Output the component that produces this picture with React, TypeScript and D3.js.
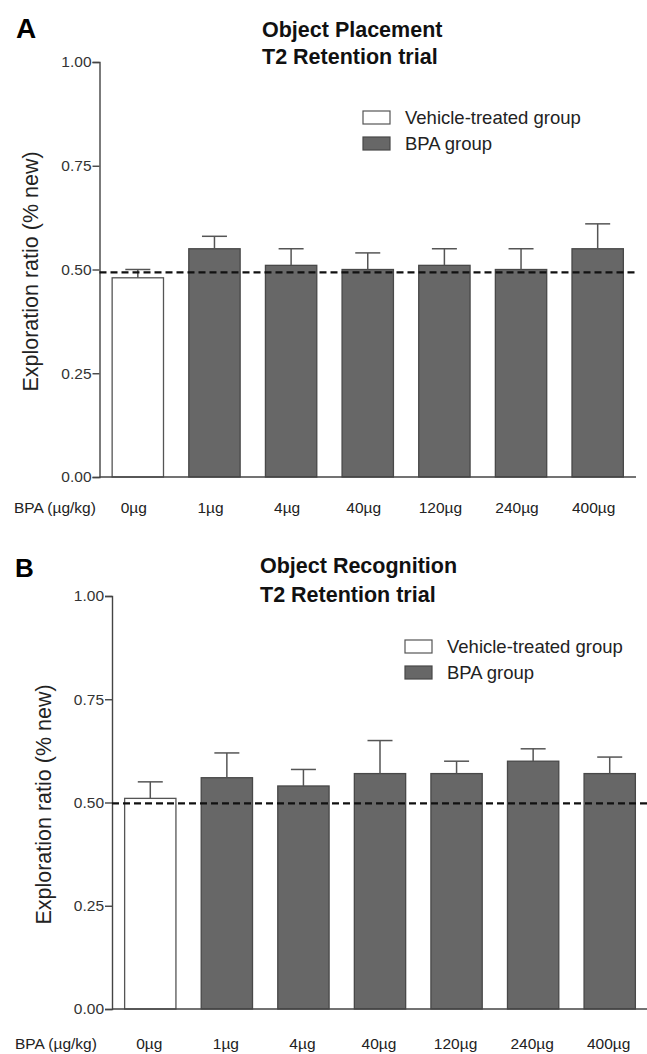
import React, { useEffect, useRef } from 'react';
import * as d3 from 'd3';

// doses on the x axis
const doses = ["0µg", "1µg", "4µg", "40µg", "120µg", "240µg", "400µg"];
const groups = ["vehicle", "bpa", "bpa", "bpa", "bpa", "bpa", "bpa"];

// A: object placement
const placementMean = [0.48, 0.55, 0.51, 0.50, 0.51, 0.50, 0.55];
const placementErr = [0.02, 0.03, 0.04, 0.04, 0.04, 0.05, 0.06];
const placementChance = 0.493;

// B: object recognition
const recognitionMean = [0.51, 0.56, 0.54, 0.57, 0.57, 0.60, 0.57];
const recognitionErr = [0.04, 0.06, 0.04, 0.08, 0.03, 0.03, 0.04];
const recognitionChance = 0.498;

const yTicks = [0, 0.25, 0.5, 0.75, 1];
const legendLabels = ["Vehicle-treated group", "BPA group"];

const FONT = "'Liberation Sans', Arial, Helvetica, sans-serif";
const BAR_GRAY = "#676767";

function drawPanel(svg, opt) {
    const g = svg.append("g");
    const x = d3.scaleBand()
        .domain(doses)
        .range([opt.x0, opt.x1])
        .paddingInner(0.33)
        .paddingOuter(0.165);
    const y = d3.scaleLinear().domain([0, 1]).range([opt.y0, opt.y1]);

    // panel letter + title
    g.append("text")
        .attr("x", opt.letterX).attr("y", opt.letterY)
        .attr("font-family", FONT).attr("font-weight", "bold")
        .attr("font-size", opt.letterSize)
        .text(opt.letter);
    opt.title.forEach((t, i) => {
        g.append("text")
            .attr("x", opt.titleX).attr("y", opt.titleY + i * opt.titleGap)
            .attr("font-family", FONT).attr("font-weight", "bold")
            .attr("font-size", 21.5)
            .attr("fill", "#111")
            .text(t);
    });

    // bars
    const data = doses.map((d, i) => ({ dose: d, mean: opt.mean[i], err: opt.err[i], group: groups[i] }));
    g.selectAll("rect.bar")
        .data(data)
        .enter()
        .append("rect")
        .attr("class", "bar")
        .attr("x", d => x(d.dose))
        .attr("y", d => y(d.mean))
        .attr("width", x.bandwidth())
        .attr("height", d => y(0) - y(d.mean))
        .attr("fill", d => d.group === "vehicle" ? "#fff" : BAR_GRAY)
        .attr("stroke", d => d.group === "vehicle" ? "#555" : "#484848")
        .attr("stroke-width", 1.3);

    // error bars (upper only)
    const eb = g.selectAll("g.err").data(data).enter().append("g").attr("class", "err");
    eb.append("line")
        .attr("x1", d => x(d.dose) + x.bandwidth() / 2)
        .attr("x2", d => x(d.dose) + x.bandwidth() / 2)
        .attr("y1", d => y(d.mean))
        .attr("y2", d => y(d.mean + d.err))
        .attr("stroke", "#555").attr("stroke-width", 1.5);
    eb.append("line")
        .attr("x1", d => x(d.dose) + x.bandwidth() / 2 - 12.5)
        .attr("x2", d => x(d.dose) + x.bandwidth() / 2 + 12.5)
        .attr("y1", d => y(d.mean + d.err))
        .attr("y2", d => y(d.mean + d.err))
        .attr("stroke", "#555").attr("stroke-width", 1.5);

    // y axis
    const yAxis = g.append("g")
        .attr("transform", `translate(${opt.x0},0)`)
        .call(d3.axisLeft(y).tickValues(yTicks).tickFormat(d3.format(".2f")).tickSize(7).tickPadding(1));
    yAxis.select(".domain").attr("stroke", "#444").attr("stroke-width", 1.4);
    yAxis.selectAll(".tick line").attr("stroke", "#444").attr("stroke-width", 1.4);
    yAxis.selectAll(".tick text")
        .attr("font-family", FONT).attr("font-size", 15.5).attr("fill", "#333");

    // x axis line
    g.append("line")
        .attr("x1", opt.x0).attr("x2", opt.x1)
        .attr("y1", y(0)).attr("y2", y(0))
        .attr("stroke", "#444").attr("stroke-width", 1.4);

    // chance line
    g.append("line")
        .attr("x1", opt.x0).attr("x2", opt.x1)
        .attr("y1", y(opt.chance)).attr("y2", y(opt.chance))
        .attr("stroke", "#111").attr("stroke-width", 2.2)
        .attr("stroke-dasharray", "7,4");

    // x labels
    g.append("text")
        .attr("x", opt.bpaX).attr("y", y(0) + opt.labelDy)
        .attr("font-family", FONT).attr("font-size", 15.5)
        .attr("fill", "#222")
        .text("BPA (µg/kg)");
    g.selectAll("text.dose")
        .data(doses)
        .enter()
        .append("text")
        .attr("class", "dose")
        .attr("x", d => x(d) + x.bandwidth() / 2 + opt.labelShift)
        .attr("y", y(0) + opt.labelDy)
        .attr("text-anchor", "middle")
        .attr("font-family", FONT).attr("font-size", 15.5)
        .attr("fill", "#222")
        .text(d => d);

    // y title
    g.append("text")
        .attr("transform", `translate(${opt.yTitleX},${(opt.y0 + opt.y1) / 2 + 2}) rotate(-90)`)
        .attr("text-anchor", "middle")
        .attr("font-family", FONT).attr("font-size", 21.5)
        .attr("fill", "#222")
        .text("Exploration ratio (% new)");

    // legend
    legendLabels.forEach((l, i) => {
        const ly = opt.legendY + i * 26;
        g.append("rect")
            .attr("x", opt.legendX).attr("y", ly)
            .attr("width", 27).attr("height", 13)
            .attr("fill", i === 0 ? "#fff" : BAR_GRAY)
            .attr("stroke", i === 0 ? "#555" : "#484848")
            .attr("stroke-width", 1.2);
        g.append("text")
            .attr("x", opt.legendX + 42).attr("y", ly + 13)
            .attr("font-family", FONT).attr("font-size", 18.5)
            .attr("fill", "#222")
            .text(l);
    });
}

function App() {
    const ref = useRef(null);
    useEffect(() => {
        const svg = d3.select(ref.current);
        svg.selectAll("*").remove();
        drawPanel(svg, {
            letter: "A", letterX: 16, letterY: 38, letterSize: 28,
            title: ["Object Placement", "T2 Retention trial"],
            titleX: 262, titleY: 37, titleGap: 26.5,
            x0: 99.5, x1: 636, y0: 477, y1: 62,
            mean: placementMean, err: placementErr, chance: placementChance,
            bpaX: 14, labelDy: 36, labelShift: -4,
            yTitleX: 38,
            legendX: 363, legendY: 111
        });
        drawPanel(svg, {
            letter: "B", letterX: 15, letterY: 577, letterSize: 26,
            title: ["Object Recognition", "T2 Retention trial"],
            titleX: 260, titleY: 573, titleGap: 29,
            x0: 112, x1: 648, y0: 1009, y1: 596,
            mean: recognitionMean, err: recognitionErr, chance: recognitionChance,
            bpaX: 15, labelDy: 40, labelShift: -1,
            yTitleX: 51,
            legendX: 405, legendY: 640
        });
    }, []);
    return (
        <svg ref={ref} width={647} height={1054}
            style={{ position: "absolute", left: 0, top: 0, background: "#fff" }} />
    );
}

export default App;
